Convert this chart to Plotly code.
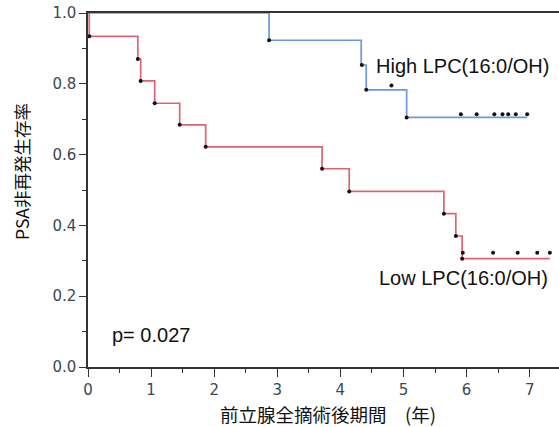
import plotly.graph_objects as go

# High LPC(16:0/OH) group (blue)
high_time = [0, 2.87, 4.33, 4.41, 5.05, 6.96]
high_surv = [1.0, 0.923, 0.853, 0.783, 0.705, 0.705]
high_event_time = [2.87, 4.34, 4.41, 5.05]
high_event_surv = [0.923, 0.853, 0.783, 0.705]
high_cens_time = [4.81, 5.91, 6.16, 6.44, 6.57, 6.66, 6.78, 6.96]
high_cens_surv = [0.795, 0.714, 0.714, 0.714, 0.714, 0.714, 0.714, 0.714]

# Low LPC(16:0/OH) group (red)
low_time = [0, 0.02, 0.79, 0.835, 1.057, 1.453, 1.865, 3.71, 4.14, 5.64, 5.83, 5.93, 7.32]
low_surv = [1.0, 0.934, 0.870, 0.808, 0.745, 0.684, 0.622, 0.560, 0.496, 0.433, 0.370, 0.306, 0.306]
low_event_time = [0.02, 0.79, 0.835, 1.057, 1.453, 1.865, 3.71, 4.14, 5.64, 5.83, 5.93]
low_event_surv = [0.934, 0.870, 0.808, 0.745, 0.684, 0.622, 0.560, 0.496, 0.433, 0.370, 0.306]
low_cens_time = [5.94, 6.42, 6.81, 7.12, 7.32]
low_cens_surv = [0.323, 0.323, 0.323, 0.323, 0.323]

y_ticks = [0.0, 0.2, 0.4, 0.6, 0.8, 1.0]
x_ticks = [0, 1, 2, 3, 4, 5, 6, 7]

BLUE = "#6f96df"
RED = "#df6372"

fig = go.Figure()
fig.add_trace(go.Scatter(x=high_time, y=high_surv, mode="lines", line_shape="hv",
                         line=dict(color=BLUE, width=1.7), hoverinfo="skip"))
fig.add_trace(go.Scatter(x=low_time, y=low_surv, mode="lines", line_shape="hv",
                         line=dict(color=RED, width=1.7), hoverinfo="skip"))
for xs, ys in [(high_event_time, high_event_surv), (high_cens_time, high_cens_surv),
               (low_event_time, low_event_surv), (low_cens_time, low_cens_surv)]:
    fig.add_trace(go.Scatter(x=xs, y=ys, mode="markers",
                             marker=dict(color="#111111", size=4), hoverinfo="skip"))

tick_font = dict(family="DejaVu Sans, Verdana, sans-serif", size=15, color="#3d4752")
ann_font = dict(family="Liberation Sans, Arial, sans-serif", size=20, color="#111111")
cjk_font_y = dict(family="Noto Sans CJK JP, sans-serif", size=17.5, color="#111111")
cjk_font_x = dict(family="Noto Sans CJK JP, sans-serif", size=18.5, color="#111111")

fig.update_layout(
    width=559, height=427,
    margin=dict(l=88, r=0, t=13, b=60),
    paper_bgcolor="white", plot_bgcolor="white",
    showlegend=False,
    xaxis=dict(range=[0, 7.465], tickvals=x_ticks, ticks="outside", ticklen=8, tickwidth=1.3,
               tickcolor="#333333", showline=True, linecolor="#333333", linewidth=1.5,
               mirror=True, showgrid=False, zeroline=False, tickfont=tick_font,
               minor=dict(dtick=0.5, tick0=0, ticks="outside", ticklen=4, tickcolor="#333333", tickwidth=1.3),
               layer="below traces"),
    yaxis=dict(range=[0, 1.0], tickvals=y_ticks, tickformat=".1f", ticks="outside", ticklen=7,
               tickwidth=1.3, tickcolor="#333333", showline=True, linecolor="#333333", linewidth=1.5,
               showgrid=False, zeroline=False, tickfont=tick_font,
               minor=dict(dtick=0.1, tick0=0, ticks="outside", ticklen=4, tickcolor="#333333", tickwidth=1.3),
               layer="below traces"),
    annotations=[
        dict(x=4.54, y=0.851, xref="x", yref="y", text="High LPC(16:0/OH)", showarrow=False,
             xanchor="left", yanchor="middle", font=ann_font),
        dict(x=4.58, y=0.251, xref="x", yref="y", text="Low LPC(16:0/OH)", showarrow=False,
             xanchor="left", yanchor="middle", font=ann_font),
        dict(x=0.345, y=0.090, xref="x", yref="y", text="p= 0.027", showarrow=False,
             xanchor="left", yanchor="middle", font=ann_font),
        dict(x=-0.140, y=0.551, xref="paper", yref="paper", text="PSA非再発生存率", showarrow=False,
             textangle=-90, xanchor="center", yanchor="middle", font=cjk_font_y),
        dict(x=0.5085, y=-0.133, xref="paper", yref="paper", text="前立腺全摘術後期間　(年)",
             showarrow=False, xanchor="center", yanchor="middle", font=cjk_font_x),
    ],
)

fig.write_html("out.html", config={"displayModeBar": False},
               post_script="document.body.style.margin='0';")
